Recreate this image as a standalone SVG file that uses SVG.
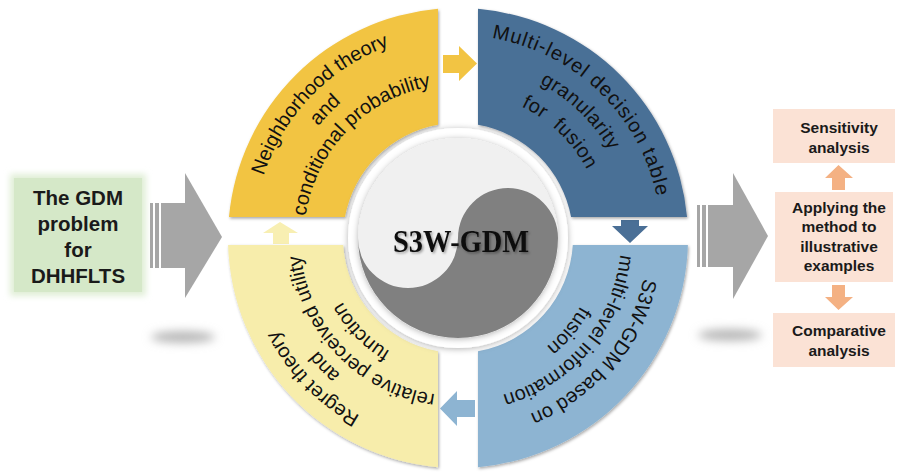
<svg xmlns="http://www.w3.org/2000/svg" width="898" height="473" viewBox="0 0 898 473">
<style>
.rt{font-family:"Liberation Sans",Arial,sans-serif;font-size:20px;fill:#111;}
.bt{font-family:"Liberation Sans",Arial,sans-serif;font-weight:bold;fill:#1a1a1a;text-anchor:middle;}
.big{fill:#a6a6a6;}
</style>
<defs>
<filter id="qs" x="-10%" y="-10%" width="120%" height="120%">
<feDropShadow dx="1" dy="1.5" stdDeviation="1.5" flood-color="#000" flood-opacity="0.35"/>
</filter>
<filter id="cs" x="-20%" y="-20%" width="140%" height="140%">
<feDropShadow dx="0" dy="1" stdDeviation="3" flood-color="#000" flood-opacity="0.3"/>
</filter>
<filter id="ts" x="-10%" y="-30%" width="120%" height="160%">
<feDropShadow dx="1.5" dy="1.5" stdDeviation="1.2" flood-color="#000" flood-opacity="0.35"/>
</filter>
<filter id="bl" x="-50%" y="-100%" width="200%" height="300%">
<feGaussianBlur stdDeviation="5"/>
</filter>
<filter id="gl" x="-20%" y="-20%" width="140%" height="140%">
<feGaussianBlur stdDeviation="3"/>
</filter>
<path id="tl1" d="M 304.04 371.84 A 204 204 0 0 1 586.38 79.47"/>
<path id="tl2" d="M 322.91 355.44 A 179 179 0 0 1 570.64 98.90"/>
<path id="tl3" d="M 341.78 339.04 A 154 154 0 0 1 554.91 118.33"/>
<path id="tr1" d="M 324.81 84.80 A 203 203 0 0 1 615.75 365.75"/>
<path id="tr2" d="M 343.18 105.93 A 175 175 0 0 1 593.99 348.13"/>
<path id="tr3" d="M 362.21 127.81 A 146 146 0 0 1 571.46 329.88"/>
<path id="br1" d="M 592.35 103.65 A 190 190 0 0 1 349.02 393.65"/>
<path id="br2" d="M 573.26 122.74 A 163 163 0 0 1 364.50 371.53"/>
<path id="br3" d="M 556.99 139.01 A 140 140 0 0 1 377.70 352.69"/>
<path id="bl1" d="M 585.75 395.75 A 203 203 0 0 1 304.80 104.81"/>
<path id="bl2" d="M 571.27 377.88 A 180 180 0 0 1 322.15 119.90"/>
<path id="bl3" d="M 557.43 360.78 A 158 158 0 0 1 338.76 134.34"/>
<path id="bl4" d="M 541.07 340.58 A 132 132 0 0 1 358.38 151.39"/>
</defs>
<rect width="898" height="473" fill="#ffffff"/>

<!-- shadows under big arrows -->
<ellipse cx="183" cy="337" rx="32" ry="6" fill="#b8b8b8" filter="url(#bl)"/>
<ellipse cx="730" cy="335" rx="32" ry="6" fill="#b8b8b8" filter="url(#bl)"/>

<g id="gdm-problem">
<rect x="10" y="174" width="136" height="122" fill="#e0eed6" filter="url(#gl)"/>
<rect x="14" y="178" width="128" height="114" fill="#d5e8c8"/>
<text class="bt" font-size="20.5" x="78" y="205">The GDM</text>
<text class="bt" font-size="20.5" x="78" y="231">problem</text>
<text class="bt" font-size="20.5" x="78" y="257">for</text>
<text class="bt" font-size="20.5" x="78" y="283">DHHFLTS</text>
</g>

<g id="connectors">
<g id="arrow-left-big">
<rect class="big" x="150" y="203" width="3" height="65"/>
<rect class="big" x="155" y="203" width="4" height="65"/>
<rect class="big" x="161" y="203" width="25" height="65"/>
<polygon class="big" points="185,173 222,237 185,298"/>
</g>
<g id="arrow-right-big">
<rect class="big" x="697" y="205" width="3" height="62"/>
<rect class="big" x="702" y="205" width="4" height="62"/>
<rect class="big" x="708" y="205" width="26" height="62"/>
<polygon class="big" points="733,173 768,236 733,299"/>
</g>
<polygon fill="#f2c443" points="443,55 459,55 459,46 477,63.5 459,81 459,73 443,73"/>
<polygon fill="#4a6f96" points="621,220 639,220 639,226 648,226 630,243 612,226 621,226"/>
<polygon fill="#8db4d2" points="475,400 457,400 457,391 440,408.5 457,426 457,417 475,417"/>
<polygon fill="#f8efb2" points="273,244 289,244 289,233 298,233 280,222 263,233 273,233"/>
<polygon fill="#f4b183" points="832,190 845,190 845,178 853,178 838.5,165 825,178 832,178"/>
<polygon fill="#f4b183" points="832,285 845,285 845,297 853,297 838.5,310 825,297 832,297"/>
</g>

<g id="q-neighborhood">
<path filter="url(#qs)" fill="#f2c443" d="M 228.96 217 A 230 230 0 0 1 438 8.87 L 438 124.75 A 115 115 0 0 0 344.93 217 Z"/>
<text class="rt"><textPath href="#tl1" startOffset="50%" text-anchor="middle">Neighborhood theory</textPath></text>
<text class="rt"><textPath href="#tl2" startOffset="50%" text-anchor="middle">and</textPath></text>
<text class="rt"><textPath href="#tl3" startOffset="50%" text-anchor="middle">conditional probability</textPath></text>
</g>

<g id="q-multilevel">
<path filter="url(#qs)" fill="#4a6f96" d="M 478 8.87 A 230 230 0 0 1 687.04 217 L 571.07 217 A 115 115 0 0 0 478 124.75 Z"/>
<text class="rt" font-size="21" letter-spacing="1"><textPath href="#tr1" startOffset="50%" text-anchor="middle">Multi-level decision table</textPath></text>
<text class="rt" font-size="21" letter-spacing="0.5"><textPath href="#tr2" startOffset="50%" text-anchor="middle">granularity</textPath></text>
<text class="rt" font-size="21" letter-spacing="0.5" style="white-space:pre"><textPath href="#tr3" startOffset="50%" text-anchor="middle">for  fusion</textPath></text>
</g>

<g id="q-s3wgdm">
<path filter="url(#qs)" fill="#8db4d2" d="M 687.89 245 A 230 230 0 0 1 478 467.13 L 478 351.25 A 115 115 0 0 0 572.79 245 Z"/>
<text class="rt"><textPath href="#br1" startOffset="50%" text-anchor="middle">S3W-GDM based on</textPath></text>
<text class="rt"><textPath href="#br2" startOffset="50%" text-anchor="middle">multi-level information</textPath></text>
<text class="rt"><textPath href="#br3" startOffset="50%" text-anchor="middle">fusion</textPath></text>
</g>

<g id="q-regret">
<path filter="url(#qs)" fill="#f7edab" d="M 438 467.13 A 230 230 0 0 1 228.11 245 L 343.21 245 A 115 115 0 0 0 438 351.25 Z"/>
<text class="rt"><textPath href="#bl1" startOffset="50%" text-anchor="middle">Regret theory</textPath></text>
<text class="rt"><textPath href="#bl2" startOffset="50%" text-anchor="middle">and</textPath></text>
<text class="rt"><textPath href="#bl3" startOffset="50%" text-anchor="middle">relative perceived utility</textPath></text>
<text class="rt"><textPath href="#bl4" startOffset="50%" text-anchor="middle">function</textPath></text>
</g>

<g id="center">
<circle cx="458" cy="238" r="110" fill="#ffffff" filter="url(#cs)"/>
<circle cx="458" cy="238" r="100" fill="#f0f0f0" filter="url(#cs)"/>
<path fill="#808080" d="M 358 238 A 50 50 0 0 0 458 238 A 50 50 0 0 1 558 238 A 100 100 0 0 1 358 238 Z"/>
<text x="461" y="251.5" font-family="'Liberation Serif','Times New Roman',serif" font-weight="bold" font-size="31" fill="#111" text-anchor="middle" textLength="136" lengthAdjust="spacingAndGlyphs" filter="url(#ts)">S3W-GDM</text>
</g>

<g id="sensitivity">
<rect x="773" y="109" width="122" height="54" fill="#fbe2d5"/>
<text class="bt" font-size="15.5" x="839" y="133">Sensitivity</text>
<text class="bt" font-size="15.5" x="839" y="153">analysis</text>
</g>
<g id="applying">
<rect x="775" y="192" width="118" height="90" fill="#fbe2d5"/>
<text class="bt" font-size="15.5" x="839" y="213">Applying the</text>
<text class="bt" font-size="15.5" x="839" y="232">method to</text>
<text class="bt" font-size="15.5" x="839" y="252">illustrative</text>
<text class="bt" font-size="15.5" x="839" y="271">examples</text>
</g>
<g id="comparative">
<rect x="773" y="313" width="122" height="54" fill="#fbe2d5"/>
<text class="bt" font-size="15.5" x="839" y="336">Comparative</text>
<text class="bt" font-size="15.5" x="839" y="356">analysis</text>
</g>
</svg>
